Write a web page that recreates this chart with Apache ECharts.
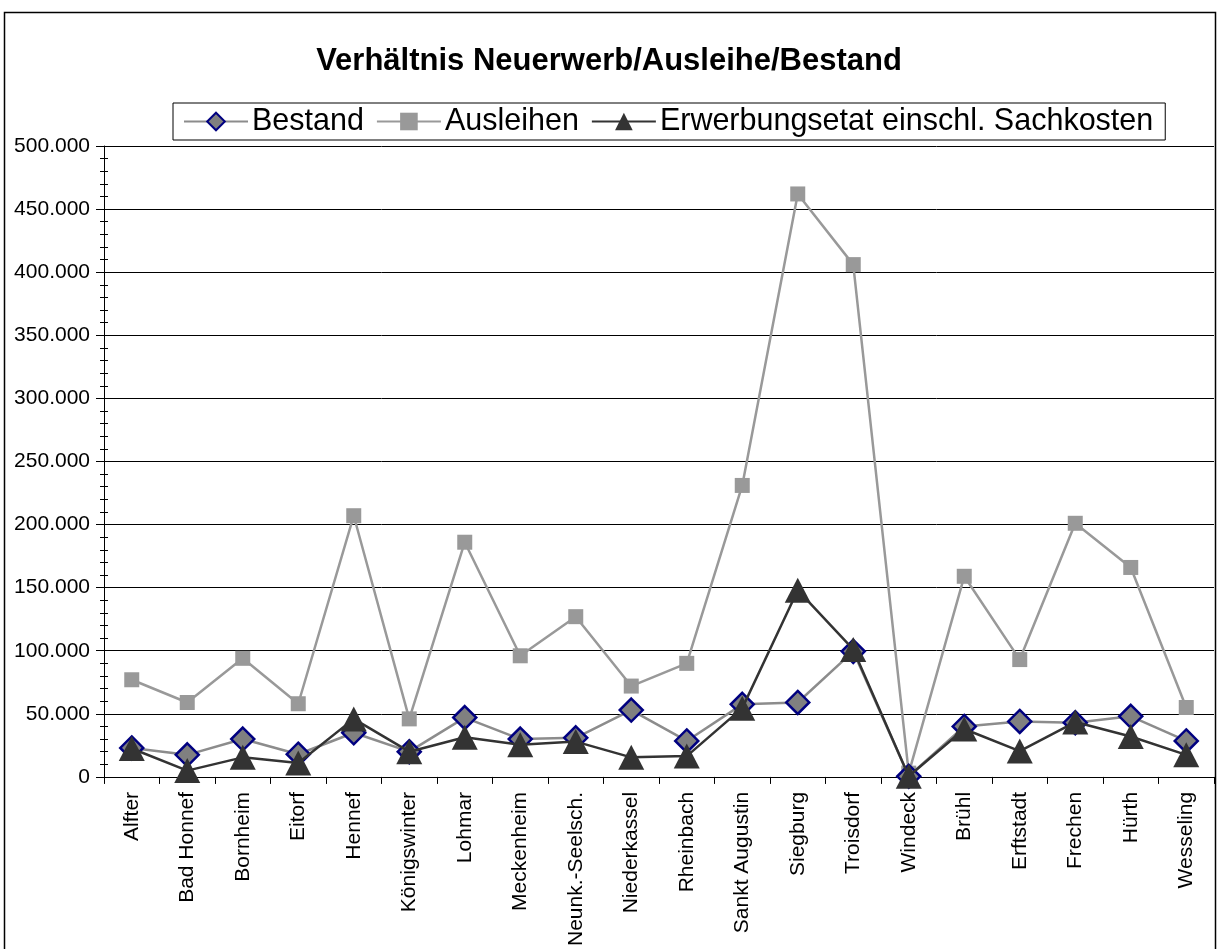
<!DOCTYPE html>
<html>
<head>
<meta charset="utf-8">
<script src="https://cdn.jsdelivr.net/npm/echarts@6/dist/echarts.min.js"></script>
<style>
  html, body { margin: 0; padding: 0; background: #fff; }
  #chart { width: 1218px; height: 949px; }
</style>
</head>
<body>
<div id="chart"></div>
<script>
// Gemeinden im Vergleich
const categories = ['Alfter', 'Bad Honnef', 'Bornheim', 'Eitorf', 'Hennef', 'Königswinter', 'Lohmar',
  'Meckenheim', 'Neunk.-Seelsch.', 'Niederkassel', 'Rheinbach', 'Sankt Augustin', 'Siegburg',
  'Troisdorf', 'Windeck', 'Brühl', 'Erftstadt', 'Frechen', 'Hürth', 'Wesseling'];

const bestand = [23000, 17500, 30000, 18000, 35000, 20000, 47000, 30000, 31000, 53000,
  28500, 57500, 59000, 99500, 500, 40000, 44000, 43000, 48000, 28500];

const ausleihen = [77000, 59000, 94000, 58000, 207000, 46000, 186000, 96000, 127000, 72000,
  90000, 231000, 462000, 406000, 3000, 159000, 93000, 201000, 166000, 55000];

const erwerbungsetat = [22500, 5000, 15500, 11000, 46000, 20000, 31500, 25500, 28000, 15500,
  16500, 54500, 148000, 101000, 500, 38000, 20500, 43500, 32000, 17500];

const yTicks = { min: 0, max: 500000, interval: 50000 };

const FONT = 'Liberation Sans, Arial, sans-serif';

const fmt = v => v === 0 ? '0' : v.toString().replace(/\B(?=(\d{3})+(?!\d))/g, '.');

const chart = echarts.init(document.getElementById('chart'), null, { renderer: 'canvas' });

chart.setOption({
  backgroundColor: '#ffffff',
  animation: false,
  title: {
    text: 'Verhältnis Neuerwerb/Ausleihe/Bestand',
    left: 'center',
    top: 41,
    textStyle: { fontFamily: FONT, fontSize: 31, fontWeight: 'bold', color: '#000' }
  },
  legend: {
    left: 173,
    top: 103,
    padding: [3, 12, 3, 10],
    borderColor: '#000',
    borderWidth: 1,
    itemWidth: 64,
    itemHeight: 22,
    itemGap: 12,
    textStyle: { fontFamily: FONT, fontSize: 30.5, color: '#000', padding: [0, 0, 0, -1] },
    data: ['Bestand', 'Ausleihen', 'Erwerbungsetat einschl. Sachkosten']
  },
  grid: { left: 104, right: 4, top: 146, bottom: 172, containLabel: false },
  xAxis: {
    type: 'category',
    data: categories,
    boundaryGap: true,
    axisLine: { show: true, lineStyle: { color: '#000', width: 1 } },
    axisTick: { show: true, length: 7, lineStyle: { color: '#000' } },
    axisLabel: {
      rotate: 90,
      interval: 0,
      margin: 15,
      fontFamily: FONT,
      fontSize: 21,
      color: '#000'
    },
    splitLine: { show: false }
  },
  yAxis: [
    {
      type: 'value',
      min: yTicks.min,
      max: yTicks.max,
      interval: yTicks.interval,
      axisLine: { show: true, lineStyle: { color: '#000', width: 1 } },
      axisTick: { show: true, length: 8, lineStyle: { color: '#000' } },
      minorTick: { show: true, splitNumber: 5, length: 4, lineStyle: { color: '#000' } },
      axisLabel: {
        margin: 14,
        fontFamily: FONT,
        fontSize: 21,
        color: '#000',
        formatter: fmt
      },
      splitLine: { show: true, lineStyle: { color: '#000', width: 1 } }
    },
    {
      // inward half of the crossing minor ticks
      type: 'value',
      position: 'left',
      min: yTicks.min,
      max: yTicks.max,
      interval: yTicks.interval,
      axisLine: { show: false },
      axisTick: { show: false, inside: true },
      minorTick: { show: true, splitNumber: 5, length: 4, lineStyle: { color: '#000' } },
      axisLabel: { show: false, inside: true },
      splitLine: { show: false },
      axisPointer: { show: false }
    }
  ],
  series: [
    {
      name: 'Bestand',
      type: 'line',
      data: bestand,
      z: 3,
      symbol: 'diamond',
      symbolSize: [23, 23],
      showAllSymbol: true,
      lineStyle: { color: '#8c8c8c', width: 2.5 },
      itemStyle: { color: '#808080', borderColor: '#000080', borderWidth: 2.5 }
    },
    {
      name: 'Ausleihen',
      type: 'line',
      data: ausleihen,
      z: 2,
      symbol: 'rect',
      symbolSize: 15,
      showAllSymbol: true,
      lineStyle: { color: '#999999', width: 2.5 },
      itemStyle: { color: '#999999', borderWidth: 0 }
    },
    {
      name: 'Erwerbungsetat einschl. Sachkosten',
      type: 'line',
      data: erwerbungsetat,
      z: 4,
      symbol: 'triangle',
      symbolSize: [26, 25],
      showAllSymbol: true,
      lineStyle: { color: '#333333', width: 2.5 },
      itemStyle: { color: '#333333', borderWidth: 0 }
    }
  ],
  graphic: [
    {
      type: 'rect',
      silent: true,
      z: 100,
      shape: { x: 4.5, y: 12.5, width: 1211, height: 1000 },
      style: { fill: 'none', stroke: '#000', lineWidth: 1.5 }
    }
  ]
});
</script>
</body>
</html>
